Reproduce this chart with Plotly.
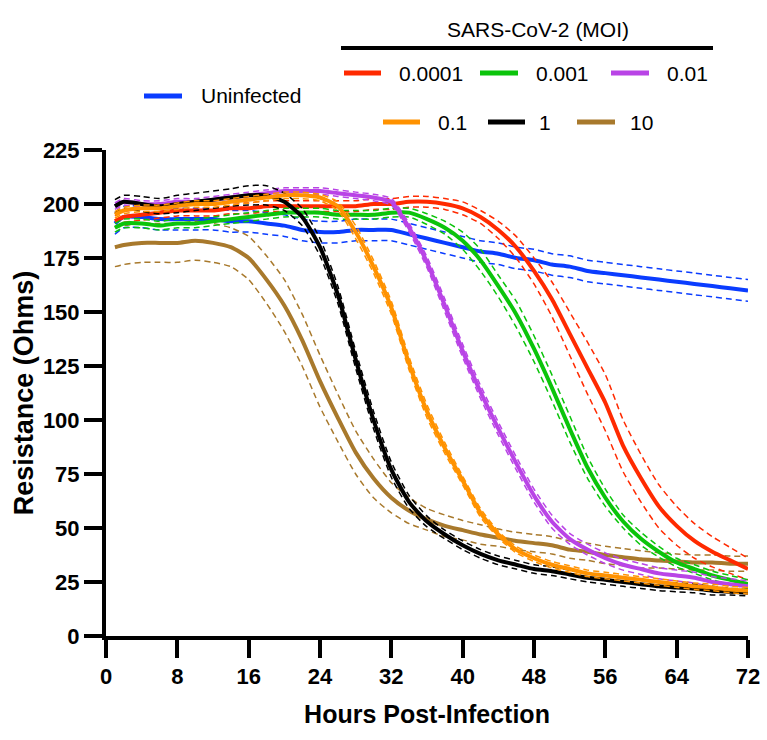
import plotly.graph_objects as go

# ---------------- data ----------------
hours = [1, 2, 4, 6, 8, 10, 12, 14, 16, 18, 20, 22, 24, 26, 28, 30, 32, 34, 36,
         38, 40, 42, 44, 46, 48, 50, 52, 54, 56, 58, 60, 62, 64, 66, 68, 70, 72]

uninf_mean = [191, 194, 194, 193, 193, 193, 193, 192, 192, 191, 190, 188, 187, 187, 188, 188, 188, 186, 184,
              182, 180, 178, 177, 175, 174, 172, 171, 169, 168, 167, 166, 165, 164, 163, 162, 161, 160]
uninf_sd = [5, 5, 5, 5, 5, 5, 5, 5, 5, 5, 5, 5, 5, 5, 5, 5, 5, 5, 5,
            5, 5, 5, 5, 5, 5, 5, 5, 5, 5, 5, 5, 5, 5, 5, 5, 5, 5]

moi_0001_mean = [192, 194, 195, 196, 197, 197, 197, 198, 198, 199, 199, 199, 199, 199, 199, 200, 200, 201, 201,
                 200, 198, 194, 188, 180, 169, 156, 140, 124, 108, 88, 73, 60, 51, 44, 39, 35, 31]
moi_0001_sd = [2.5, 2.5, 2.5, 2.5, 2.5, 2.5, 2.5, 2.5, 2.5, 2.5, 2.5, 2.5, 2.5, 2.5, 2.5, 2.5, 2.5, 2.5, 2.5,
               2.5, 3, 3, 4, 5, 6, 8, 10, 12, 13, 12, 11, 10, 9, 8, 7, 6, 5]

moi_001_mean = [189, 191, 191, 190, 191, 191, 192, 193, 194, 195, 196, 196, 196, 195, 195, 195, 196, 196, 193,
                189, 183, 174, 162, 149, 133, 115, 96, 78, 64, 53, 45, 39, 34, 31, 28, 26, 24]
moi_001_sd = [2, 2, 2, 2, 2, 2, 2, 2, 2, 2, 2, 2, 2, 2, 2, 2, 2, 2, 2.5,
              3, 4, 5, 5, 6, 6, 6, 6, 5, 4, 3, 3, 2.5, 2, 2, 2, 2, 2]

moi_01_mean = [199, 201, 200, 200, 201, 201, 202, 203, 204, 205, 206, 206, 206, 205, 204, 203, 201, 189, 173,
               153, 132, 113, 96, 80, 65, 53, 45, 40, 36, 33, 31, 29, 28, 27, 25, 24, 23]
moi_01_sd = [1.5, 1.5, 1.5, 1.5, 1.5, 1.5, 1.5, 1.5, 1.5, 1.5, 1.5, 1.5, 1.5, 1.5, 1.5, 1.5, 1.5, 2, 2.5,
             3, 3, 3, 3, 3, 3, 3, 2.5, 2.5, 2.5, 2.5, 2.5, 2.5, 2.5, 2.5, 2.5, 2.5, 2.5]

moi_1_mean = [195, 197, 198, 198, 199, 200, 200, 201, 202, 203, 204, 204, 203, 199, 187, 171, 152, 126, 104,
              87, 72, 57, 47, 40, 36, 33, 31, 29, 28, 27, 26, 25, 24, 23, 22.5, 21.5, 21]
moi_1_sd = [1.5, 1.5, 1.5, 1.5, 1.5, 1.5, 1.5, 1.5, 1.5, 1.5, 1.5, 1.5, 1.5, 2, 3, 3, 3, 3, 3,
            2.5, 2, 2, 1.5, 1.5, 1.5, 1.5, 1.5, 1.5, 1.5, 1.5, 1.5, 1.5, 1.5, 1.5, 1.5, 1.5, 1.5]

moi_10_mean = [199, 201, 200, 199, 200, 201, 202, 203, 204, 204, 201, 194, 180, 158, 128, 100, 77, 62, 53,
               47, 42, 38, 35, 33, 31, 30, 28.5, 27, 26, 25, 24, 23, 22.5, 22, 21, 20.5, 20]
moi_10_sd = [3, 3, 3.5, 3.5, 4, 4, 4, 4, 4.5, 4.5, 4, 4, 4, 4, 4, 4, 3.5, 3, 2.5,
             2, 2, 2, 2, 2, 2, 2, 2, 2, 2, 2, 2, 2, 2, 2, 2, 1.5, 1.5]

moi_100_mean = [180, 181, 182, 182, 182, 183, 182, 180, 175, 165, 153, 137, 118, 101, 85, 73, 64, 58, 54,
                51, 49, 47, 45.5, 44, 43, 42, 40, 39, 37.5, 36.5, 35.5, 35, 34.5, 34, 34, 33.5, 33.5]
moi_100_sd = [9, 9, 9, 9, 9, 9, 9, 9, 10, 11, 12, 12, 12, 11, 10, 9, 7, 6, 5,
              5, 4.5, 4.5, 4, 4, 4, 4, 4, 4, 4, 4, 4, 3.5, 3.5, 3.5, 3.5, 3.5, 3.5]

series_names = ["Uninfected", "10", "0.0001", "0.001", "0.01", "1", "0.1"]
series_means = [uninf_mean, moi_100_mean, moi_0001_mean, moi_001_mean, moi_01_mean, moi_10_mean, moi_1_mean]
series_sds = [uninf_sd, moi_100_sd, moi_0001_sd, moi_001_sd, moi_01_sd, moi_10_sd, moi_1_sd]
series_colors = ["#0A3CFF", "#A8792C", "#FF2A00", "#0BC40B", "#B944E6", "#000000", "#FF9200"]

x_ticks = [0, 8, 16, 24, 32, 40, 48, 56, 64, 72]
y_ticks = [0, 25, 50, 75, 100, 125, 150, 175, 200, 225]

# ---------------- figure ----------------
W, H = 767, 740
L, R, T, B = 106, 19, 150, 104

fig = go.Figure()
for name, m, s, c in zip(series_names, series_means, series_sds, series_colors):
    up = [a + b for a, b in zip(m, s)]
    lo = [a - b for a, b in zip(m, s)]
    for band in (up, lo):
        fig.add_trace(go.Scatter(x=hours, y=band, mode="lines",
                                 line=dict(color=c, width=1.5, dash="6px,4px", shape="spline", smoothing=0.6),
                                 showlegend=False, hoverinfo="skip"))
    fig.add_trace(go.Scatter(x=hours, y=m, mode="lines", name=name,
                             line=dict(color=c, width=4, shape="spline", smoothing=0.6),
                             showlegend=False))

def px(x):
    return (x - L) / (W - L - R)

def py(y):
    return (H - B - y) / (H - T - B)

font_name = "Liberation Sans, Arial, sans-serif"
shapes = []
annotations = []

# header
annotations.append(dict(text="SARS-CoV-2 (MOI)", x=px(538), y=py(29), xref="paper", yref="paper",
                        showarrow=False, xanchor="center", yanchor="middle",
                        font=dict(family=font_name, size=21, color="black")))
shapes.append(dict(type="line", xref="paper", yref="paper", x0=px(341), x1=px(713), y0=py(48), y1=py(48),
                   line=dict(color="black", width=4)))

legend_items = [
    ("Uninfected", "#0A3CFF", 144, 182, 199, 96),
    ("0.0001", "#FF2A00", 344, 381, 397, 73),
    ("0.001", "#0BC40B", 480, 518, 534, 73),
    ("0.01", "#B944E6", 611, 649, 665, 73),
    ("0.1", "#FF9200", 383, 420, 436, 122),
    ("1", "#000000", 488, 525, 537, 122),
    ("10", "#A8792C", 577, 615, 628, 122),
]
for label, col, lx0, lx1, tx, ly in legend_items:
    shapes.append(dict(type="line", xref="paper", yref="paper", x0=px(lx0), x1=px(lx1), y0=py(ly), y1=py(ly),
                       line=dict(color=col, width=5)))
    annotations.append(dict(text=label, x=px(tx), y=py(ly), xref="paper", yref="paper",
                            showarrow=False, xanchor="left", yanchor="middle",
                            font=dict(family=font_name, size=21, color="black")))

axis_common = dict(showgrid=False, zeroline=False, showline=True, linewidth=4, linecolor="black",
                   ticks="outside", ticklen=18, tickwidth=4, tickcolor="black",
                   tickfont=dict(family=font_name, size=22, color="black", weight="bold"))

fig.update_layout(
    width=W, height=H,
    margin=dict(l=L, r=R, t=T, b=B, autoexpand=False),
    plot_bgcolor="white", paper_bgcolor="white",
    shapes=shapes, annotations=annotations,
    xaxis=dict(range=[0, 72], tickvals=x_ticks, ticktext=[str(v) for v in x_ticks],
               title=dict(text="Hours Post-Infection", standoff=18,
                          font=dict(family=font_name, size=25, color="black", weight="bold")),
               **axis_common),
    yaxis=dict(range=[0, 225], tickvals=y_ticks, ticktext=[str(v) for v in y_ticks],
               title=dict(text="Resistance (Ohms)", standoff=2,
                          font=dict(family=font_name, size=27, color="black", weight="bold")),
               **axis_common),
)

fig.write_html("out.html")
